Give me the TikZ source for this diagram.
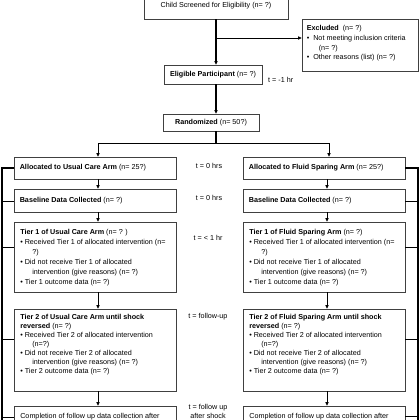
\documentclass[tikz,border=0pt]{standalone}
\usepackage{fontspec}
\setmainfont{Liberation Sans}
\usetikzlibrary{arrows.meta,calc}
\newcommand\bl[1][4.5pt]{\makebox[#1][l]{•}}
\newcommand\cont{\hspace*{12pt}}
\tikzset{
  box/.style={draw=black!75, line width=0.8pt, inner sep=0pt},
  txt/.style={inner sep=0pt, align=left, font=\fontsize{7.2}{10}\selectfont},
  tlab/.style={inner sep=0pt, align=center, font=\fontsize{7.2}{9}\selectfont},
  arr/.style={line width=1.1pt, -{Triangle[length=3.5pt,width=3.2pt]}},
  arr2/.style={line width=0.7pt, -{Triangle[length=3.5pt,width=3.2pt]}},
  brk/.style={line width=1.4pt},
}
\begin{document}
\begin{tikzpicture}[x=1pt,y=-1pt]
\useasboundingbox (0,0) rectangle (420,420);
\fill[white] (0,0) rectangle (420,420);
\clip (0,0) rectangle (420,420);

% boxes
\node[box, minimum width=144pt, minimum height=39pt] (top) at (216,-0.5) {};
\node[txt] (toptxt) at (216,6) {Child Screened for Eligibility (n= ?)};
\node[box, minimum width=116pt, minimum height=52pt] (excl) at (360,45) {};
\node[txt, anchor=north west, xshift=5pt, yshift=-6.5pt, font=\fontsize{7.2}{9.8}\selectfont] (excltxt) at (excl.north west)
 {\textbf{Excluded}\ \ (n= ?)\\
  \bl[6.5pt]Not meeting inclusion criteria\\
  \cont(n= ?)\\
  \bl[6.5pt]Other reasons (list) (n= ?)};
\node[box, minimum width=98pt, minimum height=19pt, font=\fontsize{7.2}{9}\selectfont] (elig) at (213,74.5) {\textbf{Eligible Participant} (n= ?)};
\node[box, minimum width=96pt, minimum height=17pt, font=\fontsize{7.2}{9}\selectfont] (rand) at (211,122.5) {\textbf{Randomized} (n= 50?)};

% left column
\node[box, minimum width=162pt, minimum height=22pt] (allocL) at (95,168) {};
\node[txt, anchor=west, xshift=6pt] (allocLt) at (allocL.west) {\textbf{Allocated to Usual Care Arm} (n= 25?)};
\node[box, minimum width=162pt, minimum height=23pt] (baseL) at (95,200.5) {};
\node[txt, anchor=west, xshift=6pt] (baseLt) at (baseL.west) {\textbf{Baseline Data Collected} (n= ?)};
\node[box, minimum width=162pt, minimum height=70pt] (t1L) at (95,257) {};
\node[txt, anchor=north west, xshift=6.5pt, yshift=-7.5pt] (t1Lt) at (t1L.north west)
 {\textbf{Tier 1 of Usual Care Arm} (n= ? )\\
  \bl Received Tier 1 of allocated intervention (n=\\
  \cont ?)\\
  \bl Did not receive Tier 1 of allocated\\
  \cont intervention (give reasons) (n= ?)\\
  \bl Tier 1 outcome data (n= ?)};
\node[box, minimum width=162pt, minimum height=82pt] (t2L) at (95,350) {};
\node[txt, anchor=north west, xshift=6.5pt, yshift=-5.5pt, font=\fontsize{7.2}{9}\selectfont] (t2Lt) at (t2L.north west)
 {\textbf{Tier 2 of Usual Care Arm until shock}\\
  \textbf{reversed} (n= ?)\\
  \bl Received Tier 2 of allocated intervention\\
  \cont (n=?)\\
  \bl Did not receive Tier 2 of allocated\\
  \cont intervention (give reasons) (n= ?)\\
  \bl Tier 2 outcome data (n= ?)};
\node[box, minimum width=162pt, minimum height=44pt] (compL) at (95,428) {};
\node[txt, anchor=north west, xshift=6.5pt, yshift=-7pt] (compLt) at (compL.north west)
 {Completion of follow up data collection after};

% right column
\node[box, minimum width=162pt, minimum height=22pt] (allocR) at (324,168) {};
\node[txt, anchor=west, xshift=6pt] (allocRt) at (allocR.west) {\textbf{Allocated to Fluid Sparing Arm} (n= 25?)};
\node[box, minimum width=162pt, minimum height=23pt] (baseR) at (324,200.5) {};
\node[txt, anchor=west, xshift=6pt] (baseRt) at (baseR.west) {\textbf{Baseline Data Collected} (n= ?)};
\node[box, minimum width=162pt, minimum height=70pt] (t1R) at (324,257) {};
\node[txt, anchor=north west, xshift=6.5pt, yshift=-7.5pt] (t1Rt) at (t1R.north west)
 {\textbf{Tier 1 of Fluid Sparing Arm} (n= ?)\\
  \bl Received Tier 1 of allocated intervention (n=\\
  \cont ?)\\
  \bl Did not receive Tier 1 of allocated\\
  \cont intervention (give reasons) (n= ?)\\
  \bl Tier 1 outcome data (n= ?)};
\node[box, minimum width=162pt, minimum height=82pt] (t2R) at (324,350) {};
\node[txt, anchor=north west, xshift=6.5pt, yshift=-5.5pt, font=\fontsize{7.2}{9}\selectfont] (t2Rt) at (t2R.north west)
 {\textbf{Tier 2 of Fluid Sparing Arm until shock}\\
  \textbf{reversed} (n= ?)\\
  \bl Received Tier 2 of allocated intervention\\
  \cont (n=?)\\
  \bl Did not receive Tier 2 of allocated\\
  \cont intervention (give reasons) (n= ?)\\
  \bl Tier 2 outcome data (n= ?)};
\node[box, minimum width=162pt, minimum height=44pt] (compR) at (324,428) {};
\node[txt, anchor=north west, xshift=6.5pt, yshift=-7pt] (compRt) at (compR.north west)
 {Completion of follow up data collection after};

% time labels
\node[tlab, anchor=west] (tm1) at (268,80) {t = -1 hr};
\node[tlab] (tm2) at (209,166) {t = 0 hrs};
\node[tlab] (tm3) at (209,198) {t = 0 hrs};
\node[tlab] (tm4) at (208,238) {t = < 1 hr};
\node[tlab] (tm5) at (208,317) {t = follow-up};
\node[tlab] (tm6) at (208,411.5) {t = follow up\\after shock};

% main connectors
\coordinate (br) at (216,38);
\draw[arr] (top.south) -- (elig.north -| top.south);
\draw[arr2] (br) -- (br -| excl.west);
\draw[arr] (elig.south -| top.south) -- (rand.north -| top.south);
\coordinate (sp) at (216,143);
\coordinate (aL) at (98,143);
\coordinate (aR) at (329,143);
\draw[line width=1.1pt] (rand.south -| sp) -- (sp);
\draw[line width=0.8pt] (aL) -- (aR);
\draw[arr2] (aL) -- (allocL.north -| aL);
\draw[arr2] (aR) -- (allocR.north -| aR);

% column connectors
\coordinate (cl) at (98,0);
\coordinate (cr) at (327,0);
\draw[arr2] (allocL.south -| cl) -- (baseL.north -| cl);
\draw[arr2] (baseL.south -| cl) -- (t1L.north -| cl);
\draw[arr2] (t1L.south -| cl) -- (t2L.north -| cl);
\draw[arr2] (t2L.south -| cl) -- (compL.north -| cl);
\draw[arr2] (allocR.south -| cr) -- (baseR.north -| cr);
\draw[arr2] (baseR.south -| cr) -- (t1R.north -| cr);
\draw[arr2] (t1R.south -| cr) -- (t2R.north -| cr);
\draw[arr2] (t2R.south -| cr) -- (compR.north -| cr);

% side brackets
\coordinate (lb) at (2,0);
\coordinate (rb) at (418,0);
\draw[brk] (allocL.west) -- (allocL.west -| lb) -- (lb |- 0,430);
\draw[brk] (allocR.east) -- (allocR.east -| rb) -- (rb |- 0,430);
\foreach \n/\dy in {baseL/13, t1L/26, t2L/31, compL/12}
  \draw[brk] ($(\n.north west)+(0,\dy)$) -- ($(\n.north west)+(-12,\dy)$);
\foreach \n/\dy in {baseR/13, t1R/26, t2R/31, compR/11}
  \draw[brk] ($(\n.north east)+(0,\dy)$) -- ($(\n.north east)+(13,\dy)$);
\end{tikzpicture}
\end{document}
